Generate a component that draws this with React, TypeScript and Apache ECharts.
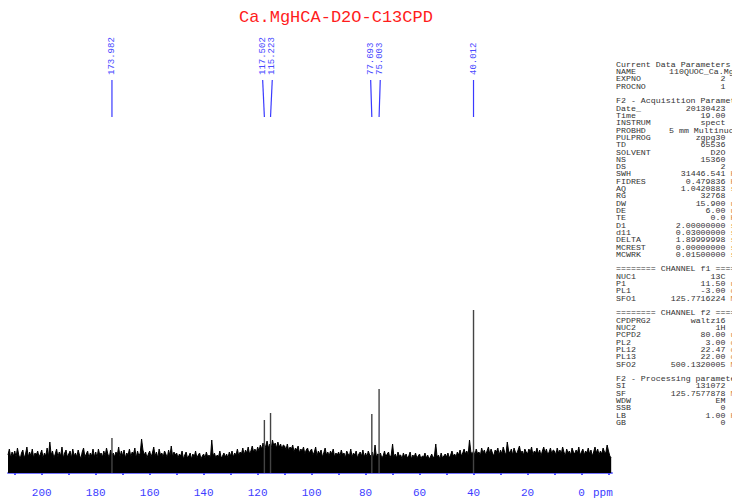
import React, { useEffect, useRef } from "react";
import * as echarts from "echarts";

const titleText = "Ca.MgHCA-D2O-C13CPD";

// noise envelope (height above baseline), read every 0.5 ppm from 212.5 ppm down to -11 ppm
const noiseStartPpm = 212.5;
const noiseStepPpm = 0.5;
const noiseHeights = [
  18, 24, 15, 21, 17,
  22, 16, 25, 18, 14, 20, 23, 15, 19, 26, 16, 21, 17, 24, 15, 20, 18, 22, 16, 19,
  23, 15, 20, 17, 25, 16, 31, 18, 22, 15, 19, 24, 16, 21, 17, 26, 15, 20, 23, 16,
  19, 22, 15, 24, 17, 20, 16, 23, 18, 14, 21, 25, 16, 19, 22, 15, 20, 17, 24, 16,
  21, 15, 24, 18, 20, 16, 22, 17, 25, 19, 15, 23, 17, 20, 16, 21, 18, 26, 16, 22,
  17, 23, 15, 20, 18, 24, 16, 21, 19, 25, 15, 22, 17, 20, 34, 23, 18, 21, 15, 19,
  22, 16, 20, 26, 17, 21, 15, 24, 18, 20, 16, 22, 19, 15, 23, 17, 27, 16, 21, 18,
  20, 15, 19, 17, 22, 14, 18, 21, 15, 17, 20, 14, 19, 16, 22, 15, 18, 20, 14, 17,
  19, 15, 21, 16, 18, 14, 33, 17, 20, 15, 18, 16, 22, 15, 17, 20, 16, 19, 15, 21,
  17, 22, 16, 20, 18, 24, 17, 21, 19, 25, 18, 23, 20, 26, 19, 22, 27, 21, 24, 20,
  26, 22, 28, 24, 30, 23, 27, 32, 25, 29, 24, 33, 27, 30, 25, 31, 26, 29, 24, 28,
  27, 23, 29, 22, 26, 24, 28, 21, 25, 23, 27, 20, 24, 22, 26, 19, 23, 25, 20, 22,
  24, 18, 21, 26, 17, 22, 19, 23, 16, 20, 25, 18, 21, 17, 22, 19, 24, 16, 20, 18,
  21, 17, 23, 18, 20, 15, 22, 19, 17, 24, 16, 20, 18, 22, 15, 19, 21, 17, 23, 16,
  20, 16, 22, 18, 17, 21, 15, 28, 16, 19, 18, 20, 15, 17, 22, 16, 19, 21, 15, 18,
  29, 16, 19, 15, 21, 17, 18, 14, 20, 16, 19, 15, 17, 21, 14, 18, 16, 20, 15, 17,
  19, 14, 17, 16, 20, 15, 18, 14, 16, 19, 15, 17, 29, 16, 18, 14, 20, 15, 17, 19,
  16, 20, 15, 18, 22, 17, 19, 16, 21, 18, 23, 17, 20, 24, 19, 22, 18, 33, 21, 19,
  22, 18, 24, 19, 21, 17, 25, 20, 23, 18, 22, 26, 19, 24, 20, 17, 23, 21, 25, 18,
  23, 19, 26, 21, 18, 31, 22, 20, 24, 18, 25, 21, 19, 23, 27, 20, 22, 18, 24, 21,
  19, 24, 21, 26, 18, 22, 20, 25, 19, 23, 17, 22, 26, 20, 24, 18, 21, 25, 19, 23,
  22, 18, 25, 20, 23, 19, 26, 21, 17, 24, 20, 22, 18, 25, 21, 19, 23, 20, 26, 18,
  21, 24, 18, 22, 20, 25, 19, 23, 17, 21, 26, 20, 24, 18, 22, 19, 25, 21, 20, 28,
  22, 17, 15,
];

// labelled peaks
const peakPpm = [173.982, 117.502, 115.223, 77.693, 75.003, 40.012];
const peakHeights = [35, 53, 60, 59, 84, 163];

const xLabelValues = [200, 180, 160, 140, 120, 100, 80, 60, 40, 20, 0];
const xTickValues = [210, 200, 190, 180, 170, 160, 150, 140, 130, 120, 110, 100, 90, 80, 70, 60, 50, 40, 30, 20, 10, 0, -10];
const xMin = -11.3;
const xMax = 212.5;

const paramRows: [string, string, string][] = [
  ["Current Data Parameters", "", ""],
  ["NAME", "110QUOC_Ca.MgHCA-D2O", ""],
  ["EXPNO", "2", ""],
  ["PROCNO", "1", ""],
  ["", "", ""],
  ["F2 - Acquisition Parameters", "", ""],
  ["Date_", "20130423", ""],
  ["Time", "19.00", ""],
  ["INSTRUM", "spect", ""],
  ["PROBHD", "5 mm Multinuclear", ""],
  ["PULPROG", "zgpg30", ""],
  ["TD", "65536", ""],
  ["SOLVENT", "D2O", ""],
  ["NS", "15360", ""],
  ["DS", "2", ""],
  ["SWH", "31446.541", "Hz"],
  ["FIDRES", "0.479836", "Hz"],
  ["AQ", "1.0420883", "sec"],
  ["RG", "32768", ""],
  ["DW", "15.900", "usec"],
  ["DE", "6.00", "usec"],
  ["TE", "0.0", "K"],
  ["D1", "2.00000000", "sec"],
  ["d11", "0.03000000", "sec"],
  ["DELTA", "1.89999998", "sec"],
  ["MCREST", "0.00000000", "sec"],
  ["MCWRK", "0.01500000", "sec"],
  ["", "", ""],
  ["======== CHANNEL f1 ========", "", ""],
  ["NUC1", "13C", ""],
  ["P1", "11.50", "usec"],
  ["PL1", "-3.00", "dB"],
  ["SFO1", "125.7716224", "MHz"],
  ["", "", ""],
  ["======== CHANNEL f2 ========", "", ""],
  ["CPDPRG2", "waltz16", ""],
  ["NUC2", "1H", ""],
  ["PCPD2", "80.00", "usec"],
  ["PL2", "3.00", "dB"],
  ["PL12", "22.47", "dB"],
  ["PL13", "22.00", "dB"],
  ["SFO2", "500.1320005", "MHz"],
  ["", "", ""],
  ["F2 - Processing parameters", "", ""],
  ["SI", "131072", ""],
  ["SF", "125.7577878", "MHz"],
  ["WDW", "EM", ""],
  ["SSB", "0", ""],
  ["LB", "1.00", "Hz"],
  ["GB", "0", ""],
];
const leftAlignedParams = ["NAME", "PROBHD"];

const MONO = '"Liberation Mono", "Courier New", monospace';

function spreadLabels(xs: number[], minGap: number): number[] {
  const order = xs.map((x, i) => i).sort((a, b) => xs[a] - xs[b]);
  const out = xs.slice();
  let k = 0;
  while (k < order.length) {
    let j = k;
    while (j + 1 < order.length && xs[order[j + 1]] - xs[order[j]] < minGap) j++;
    const n = j - k + 1;
    if (n > 1) {
      let sum = 0;
      for (let t = k; t <= j; t++) sum += xs[order[t]];
      const c = sum / n;
      for (let t = k; t <= j; t++) out[order[t]] = c + (t - k - (n - 1) / 2) * minGap;
    }
    k = j + 1;
  }
  return out;
}

export default function App() {
  const ref = useRef<HTMLDivElement>(null);
  useEffect(() => {
    if (!ref.current) return;
    const chart = echarts.init(ref.current, null, { renderer: "svg" });

    const noiseData = noiseHeights.map((h, i) => [noiseStartPpm - i * noiseStepPpm, h]);
    const peakData = peakPpm.map((p, i) => [p, peakHeights[i]]);

    const panel: any[] = [];
    const rowY0 = 65;
    const rowDy = 7.31;
    const font = `6.8px ${MONO}`;
    const sx = 1.22;
    const base = { font, verticalAlign: "middle", textVerticalAlign: "middle" };
    paramRows.forEach((row, i) => {
      const y = rowY0 + i * rowDy;
      const [label, value, unit] = row;
      if (label)
        panel.push({ type: "text", x: 616, y, scaleX: sx, style: { ...base, text: label, fill: "#333", align: "left", textAlign: "left" } });
      if (value) {
        const left = leftAlignedParams.indexOf(label) >= 0;
        panel.push({
          type: "text",
          x: left ? 669 : 725.5,
          y,
          scaleX: sx,
          style: { ...base, text: value, fill: "#333", align: left ? "left" : "right", textAlign: left ? "left" : "right" },
        });
      }
      if (unit)
        panel.push({ type: "text", x: 730.5, y, scaleX: sx, style: { ...base, text: unit, fill: "#d9893f", align: "left", textAlign: "left" } });
    });

    chart.setOption({
      animation: false,
      backgroundColor: "#ffffff",
      grid: { left: 8, right: 120, top: 173, bottom: 26, containLabel: false, outerBoundsMode: "none" },
      xAxis: {
        type: "value",
        min: xMin,
        max: xMax,
        inverse: true,
        offset: 6,
        axisLine: { show: true, lineStyle: { color: "#7474ff", width: 2 } },
        axisTick: { show: true, customValues: xTickValues, length: 2, lineStyle: { color: "#5050ff", width: 2 } },
        axisLabel: { customValues: xLabelValues, color: "#3c3cff", fontFamily: MONO, fontSize: 11, margin: 8 },
        splitLine: { show: false },
      },
      yAxis: { type: "value", min: 0, max: 300, show: false },
      graphic: [
        {
          type: "text",
          x: 336,
          y: 17,
          style: { text: titleText, font: `17px ${MONO}`, fill: "#ff1c1c", align: "center", textAlign: "center", verticalAlign: "middle", textVerticalAlign: "middle" },
        },
        {
          type: "text",
          x: 593,
          y: 493,
          style: { text: "ppm", font: `11px ${MONO}`, fill: "#3c3cff", align: "left", textAlign: "left", verticalAlign: "middle", textVerticalAlign: "middle" },
        },
        ...panel,
      ],
      series: [
        {
          type: "line",
          data: noiseData,
          symbol: "none",
          showSymbol: false,
          lineStyle: { color: "#000", width: 1 },
          areaStyle: { color: "#000", opacity: 1 },
          z: 2,
        },
        {
          type: "custom",
          data: peakData,
          z: 3,
          renderItem: (params: any, api: any) => {
            const p0 = api.coord([api.value(0), 0]);
            const p1 = api.coord([api.value(0), api.value(1)]);
            return {
              type: "line",
              shape: { x1: p0[0], y1: p0[1], x2: p1[0], y2: p1[1] },
              style: { stroke: "#444", lineWidth: 1.4 },
            };
          },
        },
        {
          type: "custom",
          data: peakPpm.map((p) => [p, 0]),
          clip: false,
          z: 4,
          renderItem: (params: any, api: any) => {
            const xs = peakPpm.map((p) => api.coord([p, 0])[0]);
            const lx = spreadLabels(xs, 9.6);
            const i = params.dataIndex;
            return {
              type: "group",
              children: [
                {
                  type: "line",
                  shape: { x1: lx[i], y1: 80, x2: xs[i], y2: 117 },
                  style: { stroke: "#3a3aff", lineWidth: 1.2 },
                },
                {
                  type: "text",
                  x: lx[i],
                  y: 75,
                  rotation: Math.PI / 2,
                  style: {
                    text: peakPpm[i].toFixed(3),
                    font: `9px ${MONO}`,
                    fill: "#4a4aff",
                    align: "left",
                    textAlign: "left",
                    verticalAlign: "middle",
                    textVerticalAlign: "middle",
                  },
                },
              ],
            };
          },
        },
      ],
    });
    return () => chart.dispose();
  }, []);
  return (
    <div
      ref={ref}
      style={{ position: "absolute", left: 0, top: 0, width: 732, height: 499, background: "#fff" }}
    />
  );
}
